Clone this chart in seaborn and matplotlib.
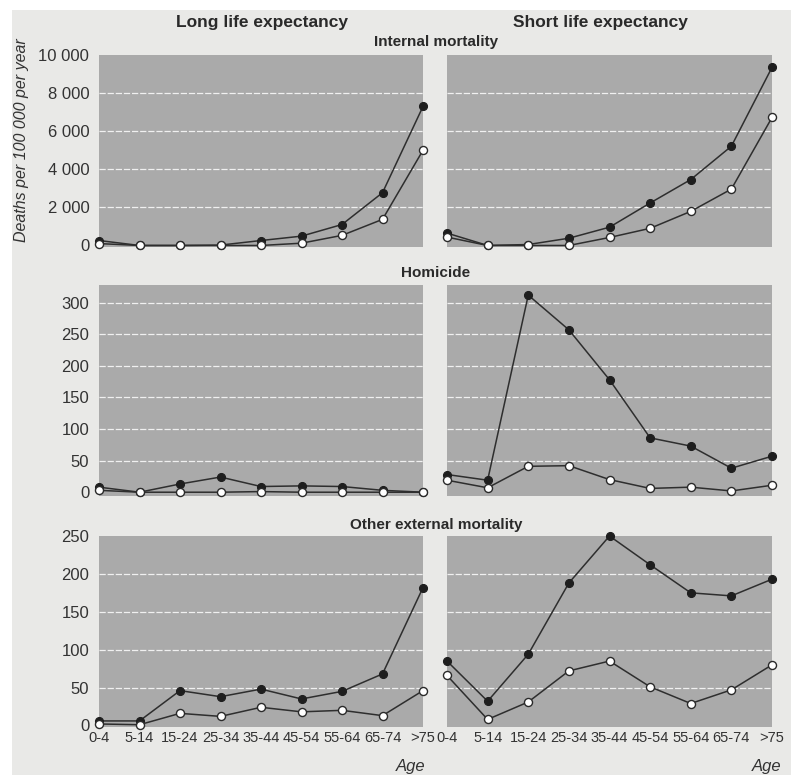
import matplotlib
matplotlib.use('Agg')
import matplotlib.pyplot as plt
import seaborn as sns
from matplotlib.patches import Rectangle
from matplotlib.ticker import FuncFormatter

# age groups on the x axis
ages = ['0-4', '5-14', '15-24', '25-34', '35-44', '45-54', '55-64', '65-74', '>75']

# internal mortality (filled / open markers)
internal_long_filled = [260, 0, 0, 20, 260, 490, 1100, 2770, 7300]
internal_long_open = [100, 0, 0, 0, 0, 120, 530, 1370, 5000]
internal_short_filled = [650, 0, 50, 380, 960, 2230, 3460, 5210, 9350]
internal_short_open = [440, 0, 0, 0, 420, 900, 1790, 2960, 6720]

# homicide
homicide_long_filled = [8, 0, 13, 24, 9, 10, 9, 3, 0]
homicide_long_open = [3, 0, 0, 0, 1, 0, 0, 0, 0]
homicide_short_filled = [28, 19, 312, 257, 178, 86, 73, 38, 57]
homicide_short_open = [19, 7, 41, 42, 20, 6, 8, 2, 11]

# other external mortality
external_long_filled = [6, 6, 46, 38, 48, 35, 45, 68, 182]
external_long_open = [2, 1, 16, 12, 24, 18, 20, 13, 46]
external_short_filled = [85, 32, 94, 188, 250, 212, 175, 171, 193]
external_short_open = [66, 8, 31, 72, 85, 51, 29, 47, 80]

col_titles = ['Long life expectancy', 'Short life expectancy']
row_titles = ['Internal mortality', 'Homicide', 'Other external mortality']
y_ticks = [[0, 2000, 4000, 6000, 8000, 10000],
           [0, 50, 100, 150, 200, 250, 300],
           [0, 50, 100, 150, 200, 250]]
y_lims = [(-80, 10000), (-6, 328), (-2, 250)]

rows = [
    [(internal_long_filled, internal_long_open), (internal_short_filled, internal_short_open)],
    [(homicide_long_filled, homicide_long_open), (homicide_short_filled, homicide_short_open)],
    [(external_long_filled, external_long_open), (external_short_filled, external_short_open)],
]

sns.set_style('white')
plt.rcParams['font.family'] = ['Liberation Sans', 'DejaVu Sans']

W, H = 791, 775
fig = plt.figure(figsize=(W / 100, H / 100), dpi=100)
fig.patch.set_facecolor('white')
# light grey card behind everything
fig.patches.append(Rectangle((12 / W, 0), 1 - 12 / W, 1 - 10 / H, transform=fig.transFigure,
                             facecolor='#e9e9e7', edgecolor='none', zorder=-10))

panel_bg = '#aaaaaa'
line_col = '#2e2e2e'

# panel boxes in pixels: (left, right) and (top, bottom)
col_px = [(99, 423), (447, 772)]
row_px = [(55, 247), (285, 496), (536, 727)]

fmt = FuncFormatter(lambda v, p: f'{int(v):,}'.replace(',', ' '))

for r in range(3):
    for c in range(2):
        x0, x1 = col_px[c]
        t, b = row_px[r]
        ax = fig.add_axes([x0 / W, 1 - b / H, (x1 - x0) / W, (b - t) / H])
        ax.set_facecolor(panel_bg)
        filled, opened = rows[r][c]
        sns.lineplot(x=ages, y=filled, ax=ax, color=line_col, lw=1.1, marker='o', markersize=5.8,
                     markerfacecolor='#1e1e1e', markeredgecolor='#1e1e1e', zorder=3, clip_on=False)
        sns.lineplot(x=ages, y=opened, ax=ax, color=line_col, lw=1.1, marker='o', markersize=5.8,
                     markerfacecolor='white', markeredgecolor='#2a2a2a', markeredgewidth=1.0,
                     zorder=4, clip_on=False)
        for s in ax.spines.values():
            s.set_visible(False)
        ax.set_xlim(0, len(ages) - 1)
        ax.set_ylim(*y_lims[r])
        ax.set_yticks(y_ticks[r])
        ax.yaxis.set_major_formatter(fmt)
        ax.yaxis.grid(True, color='#f0f0f0', lw=0.9, ls=(0, (5, 1.5)))
        ax.xaxis.grid(False)
        # no grid line along the panel edges
        glines = ax.get_ygridlines()
        glines[0].set_visible(False)
        if y_ticks[r][-1] >= y_lims[r][1]:
            glines[-1].set_visible(False)
        ax.set_axisbelow(True)
        ax.tick_params(axis='y', length=0, labelsize=12, pad=7, labelcolor='#333333')
        ax.tick_params(axis='x', direction='in', length=7, width=1, color='#eeeeee',
                       labelsize=10.5, pad=3, labelcolor='#333333')
        ax.set_xlabel('')
        ax.set_ylabel('')
        if c == 1:
            ax.set_yticklabels([])
        if r < 2:
            ax.set_xticklabels([])

# column titles
fig.text(262 / W, 1 - 22 / H, col_titles[0], ha='center', va='center', fontsize=12.5,
         fontweight='bold', color='#2a2a2a')
fig.text(600 / W, 1 - 22 / H, col_titles[1], ha='center', va='center', fontsize=12.5,
         fontweight='bold', color='#2a2a2a')

# row titles
for txt, yy in zip(row_titles, [42, 273, 525]):
    fig.text(436 / W, 1 - yy / H, txt, ha='center', va='center', fontsize=11,
             fontweight='bold', color='#2a2a2a')

fig.text(22 / W, 1 - 140 / H, 'Deaths per 100 000 per year', rotation=90, ha='center',
         va='center', fontsize=11.5, style='italic', color='#333333')
fig.text(425 / W, 1 - 767 / H, 'Age', ha='right', va='center', fontsize=12, style='italic',
         color='#333333')
fig.text(781 / W, 1 - 767 / H, 'Age', ha='right', va='center', fontsize=12, style='italic',
         color='#333333')

fig.savefig('out.png', dpi=100)
